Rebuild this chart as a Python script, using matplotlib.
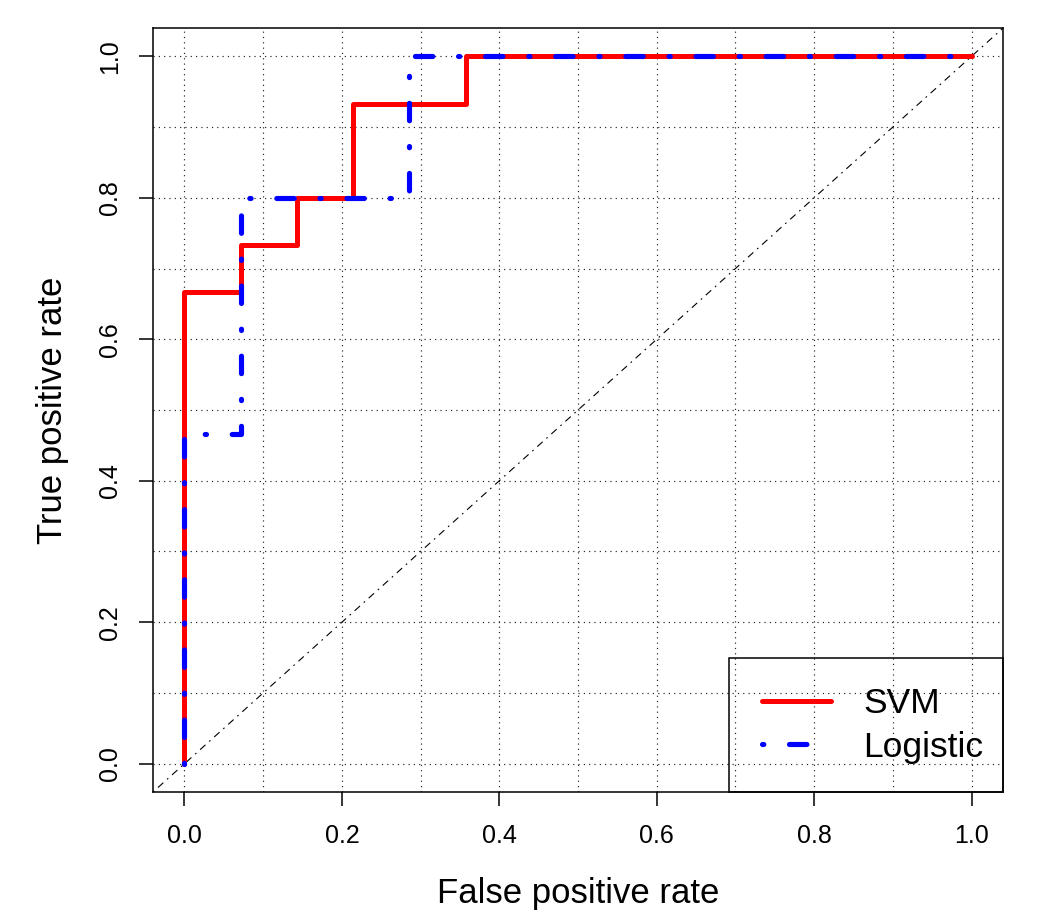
import numpy as np
import matplotlib
matplotlib.use("Agg")
import matplotlib.pyplot as plt
from matplotlib.patches import Rectangle

plt.rcParams['font.family'] = ['Liberation Sans', 'DejaVu Sans']

# ROC-Kurven
svm_fpr = [0.0, 0.0, 0.0714, 0.0714, 0.1429, 0.1429, 0.2143, 0.2143, 0.3571, 0.3571, 1.0]
svm_tpr = [0.0, 0.6667, 0.6667, 0.7333, 0.7333, 0.8, 0.8, 0.9333, 0.9333, 1.0, 1.0]

log_fpr = [0.0, 0.0, 0.0714, 0.0714, 0.2857, 0.2857, 1.0]
log_tpr = [0.0, 0.4667, 0.4667, 0.8, 0.8, 1.0, 1.0]

tick_vals = [0.0, 0.2, 0.4, 0.6, 0.8, 1.0]
tick_labels = ['0.0', '0.2', '0.4', '0.6', '0.8', '1.0']
grid_vals = [0.0, 0.1, 0.2, 0.3, 0.4, 0.5, 0.6, 0.7, 0.8, 0.9, 1.0]

fig = plt.figure(figsize=(10.38, 9.22), dpi=100)
ax = fig.add_axes([0.1474, 0.1410, 0.8189, 0.8286])

ax.set_xlim(-0.04, 1.04)
ax.set_ylim(-0.04, 1.04)

# Gitter
for g in grid_vals:
    ax.axvline(g, color='#222222', lw=0.85, ls=(0, (1, 3.5)), zorder=1)
    ax.axhline(g, color='#222222', lw=0.85, ls=(0, (1, 3.5)), zorder=1)

# Diagonale
ax.axline((0, 0), slope=1, color='black', lw=0.8, ls=(0, (1.5, 4.5, 6.5, 4.5)), zorder=2)

ax.plot(svm_fpr, svm_tpr, color='#ff0000', lw=3.6, solid_capstyle='round',
        solid_joinstyle='round', label='SVM', zorder=3)
ax.plot(log_fpr, log_tpr, color='#0000ff', lw=3.7, ls=(0, (0.25, 5.0, 3.4, 5.0)),
        dash_capstyle='round', dash_joinstyle='round', label='Logistic', zorder=4)

ax.set_xticks(tick_vals)
ax.set_xticklabels(tick_labels, fontsize=18)
ax.set_yticks(tick_vals)
ax.set_yticklabels(tick_labels, fontsize=18, rotation=90, va='center')
ax.tick_params(axis='both', direction='out', length=10, width=1.1)
ax.tick_params(axis='x', pad=13)
ax.tick_params(axis='y', pad=12)
for s in ax.spines.values():
    s.set_linewidth(1.1)

ax.set_xlabel('False positive rate', fontsize=25, va='center')
ax.xaxis.set_label_coords(0.5, -0.1335)
ax.set_ylabel('True positive rate', fontsize=25, va='center')
ax.yaxis.set_label_coords(-0.1188, 0.5)

# Legende
ax.add_patch(Rectangle((0.6776, 0.0), 0.3224, 0.1754, transform=ax.transAxes,
                       fill=False, edgecolor='black', lw=1.1, zorder=5, clip_on=False))
ax.legend(loc='center left', bbox_to_anchor=(0.7165, 0.087), frameon=False,
          fontsize=25.5, handlelength=1.96, handletextpad=0.9, borderpad=0,
          borderaxespad=0, labelspacing=0.3)

fig.savefig('out.png', dpi=100)
